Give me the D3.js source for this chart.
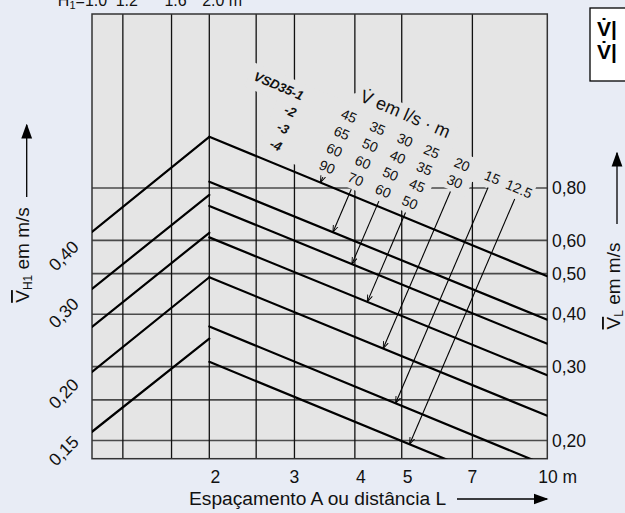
<!DOCTYPE html>
<html><head><meta charset="utf-8">
<script src="https://cdn.jsdelivr.net/npm/d3@7/dist/d3.min.js"></script>
<style>
html,body{margin:0;padding:0;background:#e8ecf5;}
svg{display:block;font-family:"Liberation Sans",Arial,Helvetica,sans-serif;}
</style></head><body>
<svg id="chart" width="625" height="513"></svg>
<script>
// Nozzle height H1 (m), top scale of the left panel
const h1Ticks = [1.0, 1.2, 1.6, 2.0];
// Spacing A / distance L (m)
const lGrid = [2.5, 3, 4, 5, 7];
const lTicks = [2, 3, 4, 5, 7, 10];
// Mean velocity V_L (m/s): grid lines and labelled values
const vlGrid = [0.2, 0.25, 0.3, 0.4, 0.5, 0.6, 0.8];
const vlTicks = [0.2, 0.3, 0.4, 0.5, 0.6, 0.8];
// Mean velocity V_H1 (m/s) labels
const vh1Ticks = [0.15, 0.2, 0.3, 0.4];
// Rising curves: V_H1 at H1 = 1.0 m and at H1 = 2.0 m
const riseAt1 = [0.421, 0.316, 0.261, 0.208, 0.154];
const riseAt2 = [0.679, 0.507, 0.419, 0.335, 0.246];
// Falling curves: V_L at L = 2 m and at L = 10 m
const fallAt2  = [1.060, 0.828, 0.725, 0.610, 0.490, 0.374, 0.308];
const fallAt10 = [0.493, 0.388, 0.340, 0.286, 0.229, 0.174, 0.1435];
// Airflow per metre (l/s·m) per variant; column k belongs to falling curve k
const variants = ["VSD35-1", "-2", "-3", "-4"];
const flowTable = [
  [45, 35, 30, 25, 20, 15, 12.5],
  [65, 50, 40, 35, 30],
  [60, 60, 50, 45],
  [90, 70, 60, 50]
];

const W = 625, H = 513;
const plot = {left: 92, right: 547.3, top: 14, bottom: 458.7};
const xH = d3.scaleLog().domain([1, 2]).range([plot.left, 209.3]);
const xL = d3.scaleLog().domain([2, 10]).range([209.3, plot.right]);
const yL = d3.scaleLog().domain([0.2, 0.8]).range([440.5, 188]);
const yH = d3.scaleLog().domain([0.15, 0.4]).range([437, 242]);
const comma = v => d3.format(".2f")(v).replace(".", ",");

const svg = d3.select("#chart");
svg.append("rect").attr("width", W).attr("height", H).attr("fill", "#e8ecf5");

const defs = svg.append("defs");
defs.append("clipPath").attr("id", "plotClip").append("rect")
  .attr("x", plot.left).attr("y", plot.top)
  .attr("width", plot.right - plot.left).attr("height", plot.bottom - plot.top);
defs.append("marker").attr("id", "tip").attr("viewBox", "0 -5 10 10")
  .attr("refX", 10).attr("refY", 0).attr("markerUnits", "userSpaceOnUse")
  .attr("markerWidth", 7).attr("markerHeight", 7).attr("orient", "auto")
  .append("path").attr("d", "M0,-3.6L10,0L0,3.6").attr("fill", "none")
  .attr("stroke", "#000").attr("stroke-width", 1.3);
defs.append("marker").attr("id", "head").attr("viewBox", "0 -5 10 10")
  .attr("refX", 9).attr("refY", 0).attr("markerUnits", "userSpaceOnUse")
  .attr("markerWidth", 15).attr("markerHeight", 15).attr("orient", "auto")
  .append("path").attr("d", "M0,-3.6L10,0L0,3.6Z").attr("fill", "#000");

// plot area
svg.append("rect").attr("x", plot.left).attr("y", plot.top)
  .attr("width", plot.right - plot.left).attr("height", plot.bottom - plot.top)
  .attr("fill", "#e5e5e5");

// grid
const grid = svg.append("g");
grid.selectAll("line.h").data(vlGrid).join("line").attr("class", "h")
  .attr("x1", plot.left).attr("x2", plot.right)
  .attr("y1", d => yL(d)).attr("y2", d => yL(d))
  .attr("stroke", "#4a4a4a").attr("stroke-width", 1.6);
grid.selectAll("line.vh").data(h1Ticks.slice(1)).join("line").attr("class", "vh")
  .attr("x1", d => xH(d)).attr("x2", d => xH(d))
  .attr("y1", plot.top).attr("y2", plot.bottom)
  .attr("stroke", "#111").attr("stroke-width", 1.3);
grid.selectAll("line.vl").data(lGrid).join("line").attr("class", "vl")
  .attr("x1", d => xL(d)).attr("x2", d => xL(d))
  .attr("y1", plot.top).attr("y2", plot.bottom)
  .attr("stroke", "#111").attr("stroke-width", 1.3);

// rotated table frame (aligned with the falling curves)
const T = {ox: 349, oy: 116, ang: 23.2};
const rad = T.ang * Math.PI / 180, cA = Math.cos(rad), sA = Math.sin(rad);
const toScreen = (u, v) => [T.ox + u * cA - v * sA, T.oy + u * sA + v * cA];
const colU = [0, 31, 61, 90, 123, 156, 185];
const rowV = [0, 18.5, 37, 55.5];

// clear area behind the table labels
const maskPts = [[-108,-12],[-5,-12],[-5,-22],[10,-33],[104,-33],[104,-11],[200,-11],
  [200,12],[139,12],[139,28],[104,28],[104,66],[-72,66],[-72,14],[-108,14]];
svg.append("g").attr("clip-path", "url(#plotClip)")
  .append("g").attr("transform", `translate(${T.ox},${T.oy}) rotate(${T.ang})`)
  .append("path").attr("d", d3.line()(maskPts) + "Z").attr("fill", "#e5e5e5");

// frame
svg.append("rect").attr("x", plot.left).attr("y", plot.top)
  .attr("width", plot.right - plot.left).attr("height", plot.bottom - plot.top)
  .attr("fill", "none").attr("stroke", "#333").attr("stroke-width", 1.5);

// curves
const curves = svg.append("g").attr("clip-path", "url(#plotClip)");
curves.selectAll("line.rise").data(d3.range(riseAt1.length)).join("line").attr("class", "rise")
  .attr("x1", xH(1)).attr("y1", i => yH(riseAt1[i]))
  .attr("x2", xH(2)).attr("y2", i => yH(riseAt2[i]))
  .attr("stroke", "#000").attr("stroke-width", 2.2).attr("stroke-linecap", "round");
curves.selectAll("line.fall").data(d3.range(fallAt2.length)).join("line").attr("class", "fall")
  .attr("x1", xL(2)).attr("y1", i => yL(fallAt2[i]))
  .attr("x2", xL(10)).attr("y2", i => yL(fallAt10[i]))
  .attr("stroke", "#000").attr("stroke-width", 2.2).attr("stroke-linecap", "round");

// arrows from each table column down to its curve
const cross = (a, b) => a[0] * b[1] - a[1] * b[0];
const arrows = colU.map((u, k) => {
  const rows = flowTable.filter(r => r.length > k).length;
  const S = toScreen(u, rowV[rows - 1] + 11);
  const D = [-sA, cA];
  const A = [xL(2), yL(fallAt2[k])], B = [xL(10), yL(fallAt10[k])];
  const E = [B[0] - A[0], B[1] - A[1]];
  const t = cross([A[0] - S[0], A[1] - S[1]], E) / cross(D, E);
  return {S, P: [S[0] + t * D[0], S[1] + t * D[1]]};
});
svg.append("g").selectAll("line").data(arrows).join("line")
  .attr("x1", d => d.S[0]).attr("y1", d => d.S[1])
  .attr("x2", d => d.P[0]).attr("y2", d => d.P[1])
  .attr("stroke", "#000").attr("stroke-width", 1.1).attr("marker-end", "url(#tip)");

// table labels
const table = svg.append("g").attr("transform", `translate(${T.ox},${T.oy}) rotate(${T.ang})`)
  .attr("fill", "#111");
table.append("text").attr("x", 3).attr("y", -18).attr("font-size", 18).text("V\u0307 em l/s \u00b7 m");
table.selectAll("text.var").data(variants).join("text").attr("class", "var")
  .attr("x", -50).attr("y", (d, i) => rowV[i]).attr("dy", "0.35em")
  .attr("text-anchor", "end").attr("font-size", 13).attr("font-weight", "bold")
  .attr("font-style", "italic").text(d => d);
flowTable.forEach((row, i) => {
  table.selectAll(null).data(row).join("text")
    .attr("x", (d, k) => colU[k]).attr("y", rowV[i]).attr("dy", "0.35em")
    .attr("text-anchor", "middle").attr("font-size", 14).text(d => d);
});

// right axis labels (V_L)
svg.append("g").selectAll("text").data(vlTicks).join("text")
  .attr("x", 552).attr("y", d => yL(d)).attr("dy", "0.35em")
  .attr("font-size", 17.5).attr("fill", "#111").text(comma);

// left axis labels (V_H1)
svg.append("g").selectAll("text").data(vh1Ticks).join("text")
  .attr("transform", d => `translate(80,${yH(d) + 6}) rotate(-45)`)
  .attr("text-anchor", "end").attr("font-size", 17.5).attr("fill", "#111").text(comma);

// bottom labels (A or L)
svg.append("g").selectAll("text").data(lTicks).join("text")
  .attr("x", d => d === 10 ? xL(d) - 9 : xL(d) + ([2, 4, 5].includes(d) ? 6 : 0))
  .attr("y", 483).attr("text-anchor", d => d === 10 ? "start" : "middle")
  .attr("font-size", 17.5).attr("fill", "#111").text(d => d === 10 ? "10 m" : d);

// top labels (H1)
const h1Labels = svg.append("g").attr("font-size", 16).attr("fill", "#111");
h1Ticks.forEach((v, i) => {
  const t = h1Labels.append("text").attr("x", xH(v) + 4).attr("y", 6).attr("text-anchor", "middle")
    .text(d3.format(".1f")(v));
  const w = t.node().getComputedTextLength();
  if (i === 0) {
    const p = h1Labels.append("text").attr("x", xH(v) + 4 - w / 2).attr("y", 6).attr("text-anchor", "end");
    p.append("tspan").text("H");
    p.append("tspan").attr("font-size", 11).attr("dy", 3).text("1");
    p.append("tspan").attr("dy", -3).text("=");
  }
  if (i === h1Ticks.length - 1) {
    h1Labels.append("text").attr("x", xH(v) + 4 + w / 2).attr("y", 6).text("\u00a0m");
  }
});

// axis titles
const lt = svg.append("text").attr("transform", "translate(29,255) rotate(-90)")
  .attr("text-anchor", "middle").attr("font-size", 19).attr("fill", "#111");
lt.append("tspan").style("text-decoration", "overline").text("V");
lt.append("tspan").attr("font-size", 12).attr("dy", 3).text("H1");
lt.append("tspan").attr("dy", -3).text(" em m/s");
svg.append("line").attr("x1", 26.7).attr("x2", 26.7).attr("y1", 197).attr("y2", 125)
  .attr("stroke", "#000").attr("stroke-width", 1.3).attr("marker-end", "url(#head)");

const rt = svg.append("text").attr("transform", "translate(620,286) rotate(-90)")
  .attr("text-anchor", "middle").attr("font-size", 19).attr("fill", "#111");
rt.append("tspan").style("text-decoration", "overline").text("V");
rt.append("tspan").attr("font-size", 12).attr("dy", 3).text("L");
rt.append("tspan").attr("dy", -3).text(" em m/s");
svg.append("line").attr("x1", 617).attr("x2", 617).attr("y1", 224).attr("y2", 153)
  .attr("stroke", "#000").attr("stroke-width", 1.3).attr("marker-end", "url(#head)");

svg.append("text").attr("x", 189).attr("y", 505).attr("font-size", 19.2).attr("fill", "#111")
  .text("Espaçamento A ou distância L");
svg.append("line").attr("x1", 457).attr("x2", 547).attr("y1", 499).attr("y2", 499)
  .attr("stroke", "#000").attr("stroke-width", 1.3).attr("marker-end", "url(#head)");

// legend box at the top right
svg.append("rect").attr("x", 590).attr("y", 8).attr("width", 60).attr("height", 73)
  .attr("fill", "#fff").attr("stroke", "#000").attr("stroke-width", 1.3);
svg.append("g").attr("font-size", 21).attr("font-weight", "bold").attr("fill", "#000")
  .selectAll("text").data([36, 59]).join("text")
  .attr("x", 597).attr("y", d => d).text("V\u0307|");
</script>
</body></html>
